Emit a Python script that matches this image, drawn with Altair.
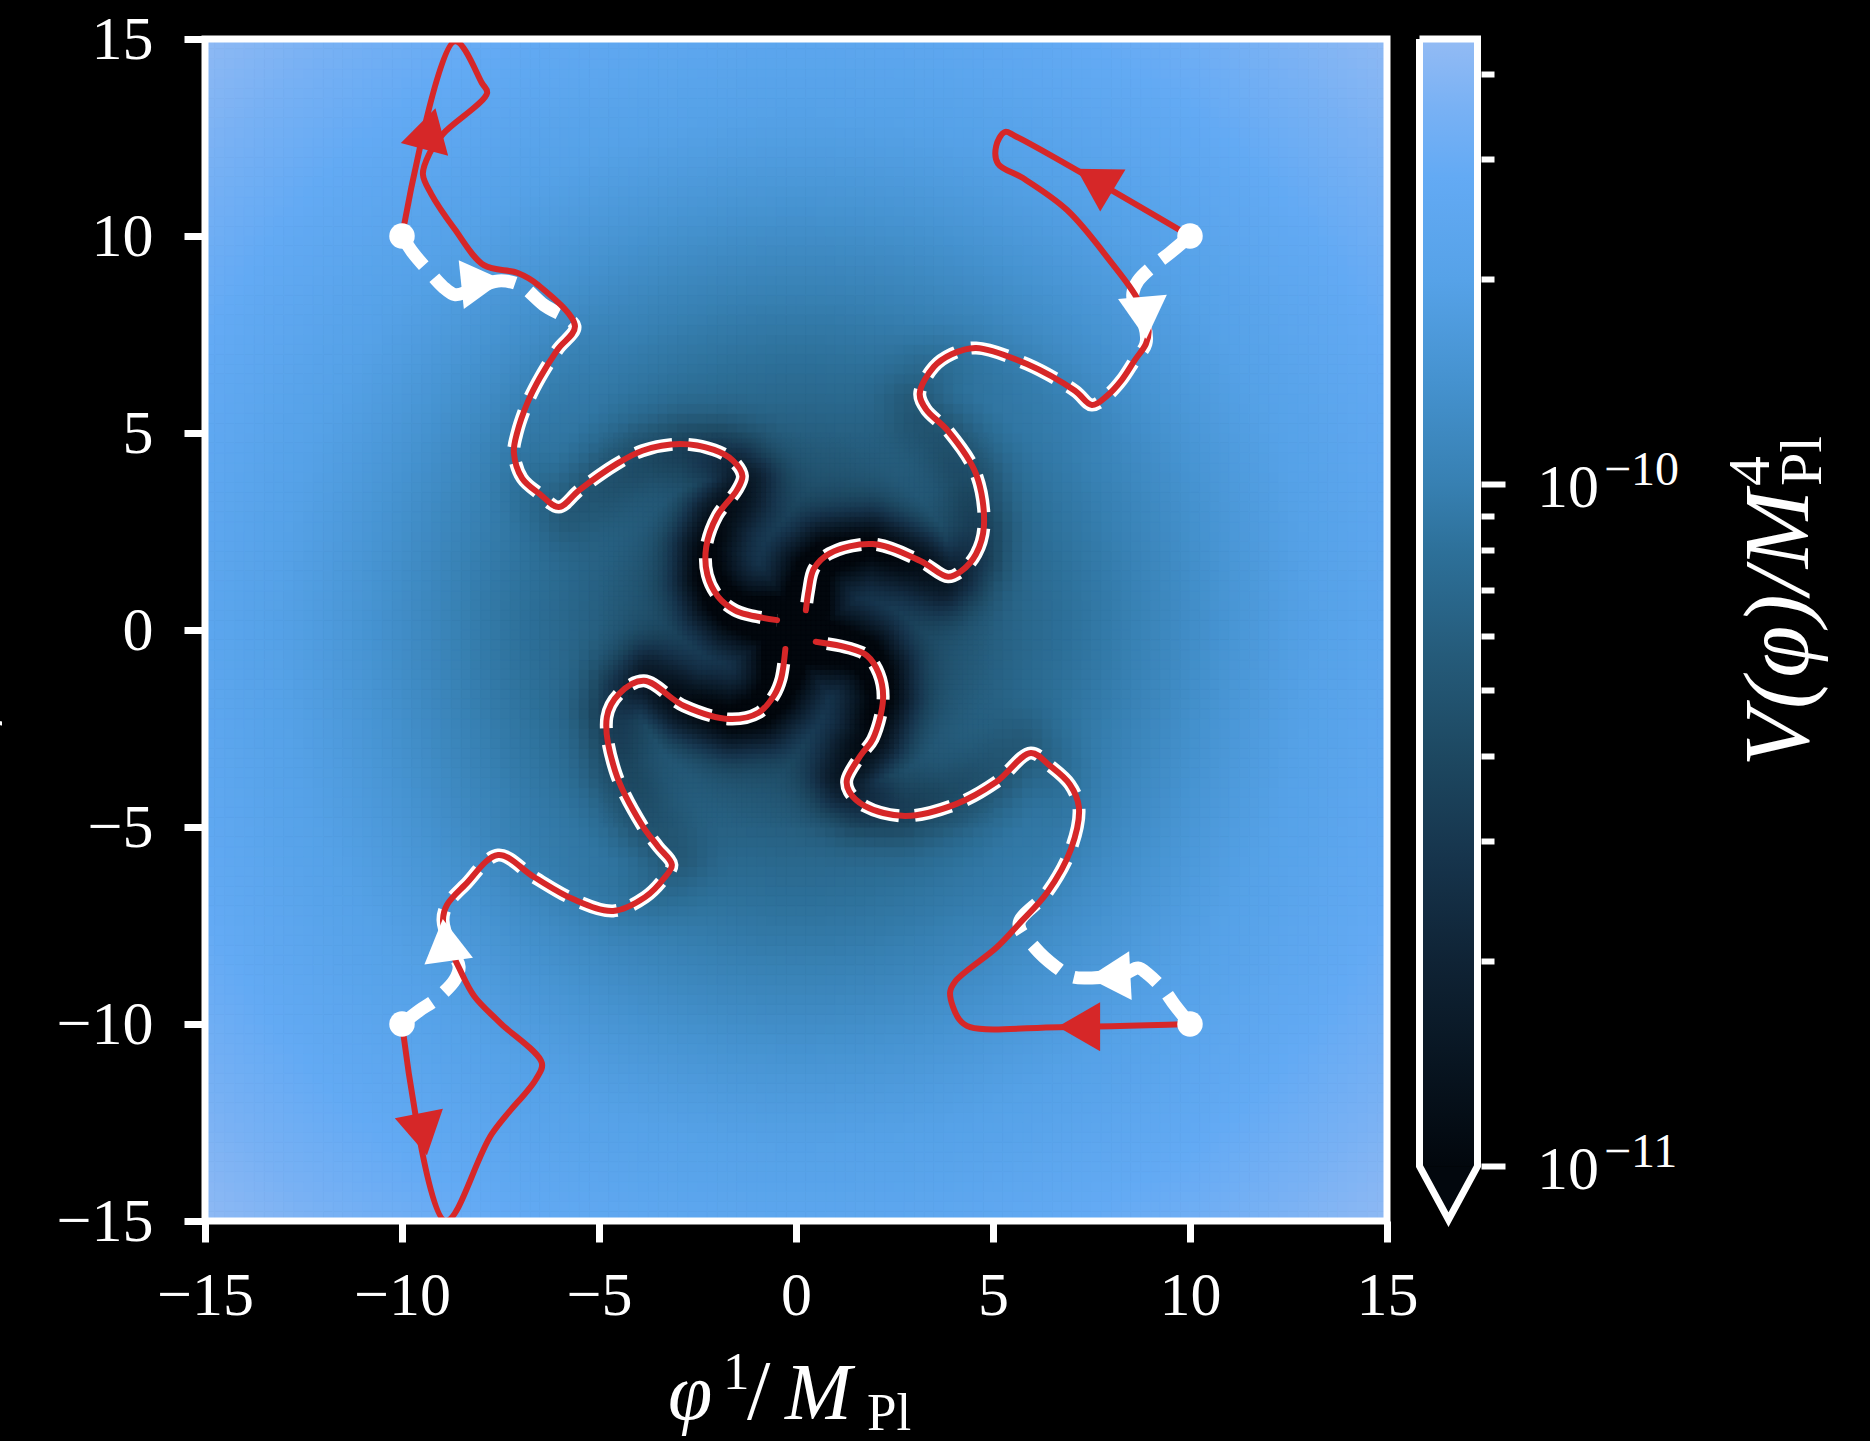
import numpy as np
import pandas as pd
import altair as alt

FONT = "Liberation Serif"
W = H = 1182
PAD = {"left": 205, "top": 39, "right": 483, "bottom": 220}

# ---------------- colour map (log10 V / M_Pl^4) ----------------
CMAP_LOG = [-11.0, -10.85, -10.7, -10.55, -10.4, -10.25, -10.1, -10.0, -9.85, -9.7, -9.55, -9.45, -9.347]
CMAP_COL = ["#02070d", "#081521", "#0f2335", "#16344c", "#1d4861", "#255b7a", "#2d7099",
            "#3780b2", "#4592cf", "#56a2e8", "#63aaf4", "#78b1f4", "#93bbf4"]
V_TOP = 4.5e-10
V_MIN = 1e-11
V_TIP = 8.35e-12
CB_BOTTOM = 8.31e-12
CB_TICKS = [1e-11, 2e-11, 3e-11, 4e-11, 5e-11, 6e-11, 7e-11, 8e-11, 9e-11, 1e-10, 2e-10, 3e-10, 4e-10]
CB_MAJOR = [1e-11, 1e-10]
CB_EXP = ["\u221211", "\u221210"]
AXIS_TICKS = [-15, -10, -5, 0, 5, 10, 15]

# ---------------- potential: radial profile and valley darkening ----------------
PROFILE_R = [0, 0.3, 0.6, 1, 1.5, 2, 3, 4, 5, 6, 7, 8, 9, 10, 11, 12, 13, 14, 15, 16, 17, 18, 19, 20, 21.3]
PROFILE_LV = [-11.4, -10.88, -10.72, -10.62, -10.54, -10.49, -10.4, -10.31, -10.22, -10.15, -10.09, -10.03,
              -9.96, -9.89, -9.82, -9.76, -9.71, -9.67, -9.62, -9.58, -9.53, -9.49, -9.45, -9.41, -9.36]
VALLEY_R = [0, 0.5, 1, 2, 3, 4, 5, 6, 7, 8, 9, 10]
VALLEY_DEPTH = [-0.3, -0.4, -0.55, -0.62, -0.62, -0.52, -0.33, -0.2, -0.12, -0.06, -0.03, 0.0]
VALLEY_WIDTH = 0.9

# ---------------- trajectories ----------------
ARM_TL_X = [-5.61, -6.05, -6.5, -6.82, -7.08, -7.16, -6.95, -6.5, -6.02, -5.5, -4.59, -3.9, -2.94, -2.08, -1.6,
            -1.36, -1.5, -2.0, -2.28, -2.25, -1.98, -1.55, -1.2, -0.48]
ARM_TL_Y = [7.71, 7.12, 6.4, 5.76, 5.0, 4.5, 3.85, 3.45, 3.12, 3.55, 4.19, 4.55, 4.72, 4.57, 4.3,
            3.91, 3.55, 2.9, 2.1, 1.4, 0.85, 0.5, 0.38, 0.25]
ARM_TR_X = [8.88, 8.6, 8.27, 7.9, 7.51, 7.08, 5.86, 4.57, 3.95, 3.5, 3.14, 3.3, 3.86, 4.57, 4.77, 4.57, 4.2,
            3.86, 3.16, 1.95, 0.85, 0.45, 0.32, 0.25]
ARM_TR_Y = [7.26, 6.85, 6.35, 5.95, 5.71, 6.07, 6.75, 7.16, 7.0, 6.68, 6.0, 5.6, 5.05, 3.96, 2.64, 1.93, 1.5,
            1.35, 1.75, 2.18, 1.94, 1.55, 1.0, 0.5]
ARM_BR_X = [5.66, 6.37, 6.98, 7.18, 6.95, 6.45, 5.96, 5.08, 4.06, 2.77, 1.75, 1.35, 1.29, 1.65, 1.95, 2.21,
            2.1, 1.8, 1.35, 0.5]
ARM_BR_Y = [-7.46, -6.67, -5.56, -4.5, -3.92, -3.45, -3.12, -3.86, -4.42, -4.72, -4.47, -4.1, -3.81, -3.17,
            -2.77, -1.75, -1.1, -0.65, -0.46, -0.3]
ARM_BL_X = [-8.96, -8.86, -8.4, -7.56, -6.65, -5.66, -4.64, -3.83, -3.35, -3.15, -3.5, -3.91, -4.59, -4.8,
            -4.49, -3.86, -2.84, -1.68, -0.95, -0.55, -0.38, -0.27]
ARM_BL_Y = [-7.36, -6.98, -6.47, -5.71, -6.27, -6.83, -7.13, -6.78, -6.3, -5.96, -5.5, -4.95, -3.58, -2.21,
            -1.62, -1.29, -1.93, -2.26, -2.1, -1.65, -1.24, -0.48]

RED_TL_X = [-10.0, -8.66, -7.97, -7.84, -8.96, -9.31, -9.47, -9.26, -8.66, -7.92, -7.06, -6.55]
RED_TL_Y = [10.0, 14.94, 13.88, 13.63, 12.59, 12.08, 11.57, 11.07, 10.17, 9.26, 9.06, 8.76]
RED_TR_X = [10.0, 5.56, 5.30, 5.08, 5.13, 5.76, 6.88, 7.97, 8.68, 8.95]
RED_TR_Y = [10.0, 12.54, 12.64, 12.28, 11.83, 11.47, 10.66, 9.37, 8.38, 7.6]
RED_BL_X = [-10.0, -8.9, -7.72, -6.6, -6.45, -7.51, -8.17, -8.55, -8.85]
RED_BL_Y = [-10.0, -15.0, -12.79, -11.4, -10.99, -9.97, -9.29, -8.58, -7.9]
RED_BR_X = [10.0, 6.67, 4.42, 4.14, 3.91, 4.04, 5.09]
RED_BR_Y = [-10.0, -10.08, -10.08, -9.88, -9.21, -8.92, -8.06]

WHITE_TL_X = [-10.0, -9.72, -9.37, -8.96, -8.66, -8.3, -7.56, -7.0, -6.4]
WHITE_TL_Y = [10.0, 9.57, 9.16, 8.71, 8.51, 8.6, 8.86, 8.75, 8.25]
WHITE_TR_X = [10.0, 9.49, 9.09, 8.68, 8.55, 8.6, 8.84]
WHITE_TR_Y = [10.0, 9.57, 9.26, 8.86, 8.55, 8.2, 7.75]
WHITE_BL_X = [-10.0, -9.55, -9.16, -8.66, -8.55, -8.75]
WHITE_BL_Y = [-10.0, -9.65, -9.39, -8.88, -8.55, -8.1]
WHITE_BR_X = [10.0, 9.6, 9.35, 8.95, 8.68, 8.35, 7.51, 7.0, 6.57, 6.07]
WHITE_BR_Y = [-10.0, -9.5, -9.15, -8.75, -8.58, -8.72, -8.83, -8.8, -8.53, -8.07]

DOT_X = [-10.0, 10.0, -10.0, 10.0]
DOT_Y = [10.0, 10.0, -10.0, -10.0]

RED_ARROW_X = [-9.29, 7.58, -9.47, 7.18]
RED_ARROW_Y = [12.72, 11.43, -12.8, -10.07]
RED_ARROW_ANG = [15, 301, 169, 270]
WHITE_ARROW_X = [-7.96, 8.84, -8.89, 7.95]
WHITE_ARROW_Y = [8.82, 7.92, -7.87, -8.8]
WHITE_ARROW_ANG = [84, 175, 352, 267]

ARMS = [(ARM_TL_X, ARM_TL_Y), (ARM_TR_X, ARM_TR_Y), (ARM_BR_X, ARM_BR_Y), (ARM_BL_X, ARM_BL_Y)]


# ---------------- heat map grid (finer cells near the centre) ----------------
def cells(lo, hi, step, skip=None):
    c = lo + step * (np.arange(int(round((hi - lo) / step))) + 0.5)
    gx, gy = np.meshgrid(c, c)
    gx, gy = gx.ravel(), gy.ravel()
    if skip is not None:
        keep = ~((np.abs(gx) < skip) & (np.abs(gy) < skip))
        gx, gy = gx[keep], gy[keep]
    return gx, gy, np.full(gx.shape, step)


ox, oy, os_ = cells(-15, 15, 0.25, skip=5)
ix, iy, is_ = cells(-5, 5, 0.125)
GX = np.concatenate([ox, ix]); GY = np.concatenate([oy, iy]); GS = np.concatenate([os_, is_])
GR = np.hypot(GX, GY)

dmin = np.full(GX.shape, 1e9)
for ax_, ay_ in ARMS:
    ax_ = np.asarray(ax_); ay_ = np.asarray(ay_)
    for k in range(len(ax_) - 1):
        x1, y1, x2, y2 = ax_[k], ay_[k], ax_[k + 1], ay_[k + 1]
        dx, dy = x2 - x1, y2 - y1
        L2 = dx * dx + dy * dy
        t = np.clip(((GX - x1) * dx + (GY - y1) * dy) / L2, 0, 1)
        d = np.hypot(GX - (x1 + t * dx), GY - (y1 + t * dy))
        dmin = np.minimum(dmin, d)

lv = np.interp(GR, PROFILE_R, PROFILE_LV) + np.interp(GR, VALLEY_R, VALLEY_DEPTH) * np.exp(-(dmin / VALLEY_WIDTH) ** 2)

heat_df = pd.DataFrame({
    "x0": np.round(GX - GS / 2, 4),
    "x1": np.round(GX + GS / 2, 4),
    "y0": np.round(GY - GS / 2, 4),
    "y1": np.round(GY + GS / 2, 4),
    "lv": np.round(lv, 3),
})


def path_df(pieces):
    rows = []
    for name, xs, ys in pieces:
        for i, (x, y) in enumerate(zip(xs, ys)):
            rows.append({"traj": name, "i": i, "x": x, "y": y})
    return pd.DataFrame(rows)


red_df = path_df([
    ("tl", RED_TL_X + ARM_TL_X, RED_TL_Y + ARM_TL_Y),
    ("tr", RED_TR_X + ARM_TR_X, RED_TR_Y + ARM_TR_Y),
    ("bl", RED_BL_X + ARM_BL_X, RED_BL_Y + ARM_BL_Y),
    ("br", RED_BR_X + ARM_BR_X, RED_BR_Y + ARM_BR_Y),
])
white_df = path_df([
    ("tl", WHITE_TL_X + ARM_TL_X, WHITE_TL_Y + ARM_TL_Y),
    ("tr", WHITE_TR_X + ARM_TR_X, WHITE_TR_Y + ARM_TR_Y),
    ("bl", WHITE_BL_X + ARM_BL_X, WHITE_BL_Y + ARM_BL_Y),
    ("br", WHITE_BR_X + ARM_BR_X, WHITE_BR_Y + ARM_BR_Y),
])
dots_df = pd.DataFrame({"x": DOT_X, "y": DOT_Y})
red_arrow_df = pd.DataFrame({"x": RED_ARROW_X, "y": RED_ARROW_Y, "ang": RED_ARROW_ANG})
white_arrow_df = pd.DataFrame({"x": WHITE_ARROW_X, "y": WHITE_ARROW_Y, "ang": WHITE_ARROW_ANG})
one = pd.DataFrame({"a": [0]})

# ---------------- scales / axes ----------------
XS = alt.Scale(domain=[-15, 15], nice=False, zero=False)
YS = alt.Scale(domain=[-15, 15], nice=False, zero=False)
LABEL_EXPR = "replace(format(datum.value, 'd'), '-', '\u2212')"
X_AXIS = alt.Axis(values=AXIS_TICKS, title=None, domain=False, grid=False, tickColor="white", tickWidth=7,
                  tickSize=21, labelColor="white", labelFont=FONT, labelFontSize=62, labelPadding=23,
                  labelExpr=LABEL_EXPR, labelFlush=False, labelOverlap=False)
Y_AXIS = alt.Axis(values=AXIS_TICKS, title=None, domain=False, grid=False, tickColor="white", tickWidth=7,
                  tickSize=21, labelColor="white", labelFont=FONT, labelFontSize=62, labelPadding=31,
                  labelExpr=LABEL_EXPR, labelFlush=False, labelOverlap=False)
CSCALE = alt.Scale(domain=CMAP_LOG, range=CMAP_COL, clamp=True, interpolate="rgb")


def xy(xf="x:Q", yf="y:Q"):
    return dict(x=alt.X(xf, scale=XS, axis=X_AXIS), y=alt.Y(yf, scale=YS, axis=Y_AXIS))


heat = alt.Chart(heat_df).mark_rect(strokeWidth=1).encode(
    x2="x1:Q", y2="y1:Q",
    color=alt.Color("lv:Q", scale=CSCALE, legend=None),
    stroke=alt.Stroke("lv:Q", scale=CSCALE, legend=None),
    **xy("x0:Q", "y0:Q"),
)

white_lines = alt.Chart(white_df).mark_line(
    color="white", strokeWidth=13, strokeDash=[37, 16], strokeCap="butt", clip=True,
    interpolate="catmull-rom"
).encode(detail="traj:N", order="i:Q", **xy())

red_lines = alt.Chart(red_df).mark_line(
    color="#d62728", strokeWidth=6, strokeJoin="round", strokeCap="round", clip=True,
    interpolate="catmull-rom"
).encode(detail="traj:N", order="i:Q", **xy())

dots = alt.Chart(dots_df).mark_circle(size=650, color="white", opacity=1).encode(**xy())

red_arrows = alt.Chart(red_arrow_df).mark_point(
    shape="triangle-up", filled=True, size=2400, color="#d62728", opacity=1
).encode(angle=alt.Angle("ang:Q", scale=None), **xy())

white_arrows = alt.Chart(white_arrow_df).mark_point(
    shape="triangle-up", filled=True, size=2400, color="white", opacity=1
).encode(angle=alt.Angle("ang:Q", scale=None), **xy())

frame = alt.Chart(one).mark_rect(filled=False, color="white", strokeWidth=7).encode(
    x=alt.value(0), x2=alt.value(W), y=alt.value(0), y2=alt.value(H))


def txt(text, x, y, size, italic=False, angle=0, align="left", baseline="alphabetic"):
    props = dict(align=align, baseline=baseline, font=FONT, fontSize=size, color="white")
    if italic:
        props["fontStyle"] = "italic"
    if angle:
        props["angle"] = angle
    return alt.Chart(pd.DataFrame({"t": [text]})).mark_text(**props).encode(
        text="t:N", x=alt.value(x), y=alt.value(y))


x_title = [
    txt("\u03c6", 463, 1380, 80, italic=True),
    txt("1", 518, 1350, 53),
    txt("/", 542, 1380, 84),
    txt("M", 580, 1380, 80, italic=True),
    txt("Pl", 662, 1391, 53),
]
y_title = txt("\u03c6\u00b2/MPl", -219, 591, 76, italic=True, angle=270, align="center")

main = alt.layer(heat, white_lines, red_lines, dots, red_arrows, white_arrows, frame, *x_title, y_title)

# ---------------- colour bar ----------------
CB_Y = alt.Scale(type="log", domain=[CB_BOTTOM, V_TOP], nice=False, zero=False)
CB_AXIS = alt.Axis(orient="right", offset=94, values=CB_TICKS, labels=False, title=None, domain=False,
                   grid=False, tickColor="white", tickWidth=6,
                   tickSize={"condition": {"test": "abs(datum.value/1e-10 - 1) < 1e-6 || abs(datum.value/1e-11 - 1) < 1e-6",
                                           "value": 24}, "value": 13})

span = CMAP_LOG[-1] - CMAP_LOG[0]
grad = alt.Gradient(
    gradient="linear",
    stops=[alt.GradientStop(offset=(l - CMAP_LOG[0]) / span, color=c) for l, c in zip(CMAP_LOG, CMAP_COL)],
    x1=0, x2=0, y1=1, y2=0,
)
cb_rect = alt.Chart(pd.DataFrame({"v0": [V_MIN], "v1": [V_TOP]})).mark_rect(fill=grad).encode(
    x=alt.value(1218), x2=alt.value(1269),
    y=alt.Y("v0:Q", scale=CB_Y, axis=CB_AXIS), y2="v1:Q")

tri_df = pd.DataFrame({"px": [1218, 1243.5, 1269], "v": [V_MIN, V_TIP, V_MIN], "v2": [V_MIN] * 3})
cb_tri = alt.Chart(tri_df).mark_area(color=CMAP_COL[0], orient="vertical").encode(
    x=alt.X("px:Q", scale=None, axis=None),
    y=alt.Y("v:Q", scale=CB_Y, axis=CB_AXIS), y2="v2:Q")

outline_df = pd.DataFrame({
    "i": [0, 1, 2, 3, 4, 5],
    "px": [1214.5, 1214.5, 1243.5, 1272.5, 1272.5, 1214.5],
    "v": [V_TOP, V_MIN, V_TIP, V_MIN, V_TOP, V_TOP],
})
cb_outline = alt.Chart(outline_df).mark_line(color="white", strokeWidth=7, strokeJoin="miter").encode(
    x=alt.X("px:Q", scale=None, axis=None),
    y=alt.Y("v:Q", scale=CB_Y, axis=CB_AXIS), order="i:Q")

lab_df = pd.DataFrame({"v": CB_MAJOR, "base": ["10", "10"], "exp": CB_EXP})
cb_base = alt.Chart(lab_df).mark_text(align="left", baseline="alphabetic", dy=23, font=FONT, fontSize=62,
                                      color="white").encode(
    x=alt.value(1332), y=alt.Y("v:Q", scale=CB_Y, axis=CB_AXIS), text="base:N")
cb_exp = alt.Chart(lab_df).mark_text(align="left", baseline="alphabetic", dy=1, font=FONT, fontSize=48,
                                     color="white").encode(
    x=alt.value(1399), y=alt.Y("v:Q", scale=CB_Y, axis=CB_AXIS), text="exp:N")

cb_title = [
    txt("V(\u03c6)/M", 1603, 451, 94, italic=True, angle=270, align="right"),
    txt("4", 1564, 447, 60, angle=270, align="left"),
    txt("Pl", 1616, 447, 60, angle=270, align="left"),
]

cbar = alt.layer(cb_rect, cb_tri, cb_outline, cb_base, cb_exp, *cb_title)

chart = (
    alt.layer(main, cbar)
    .resolve_scale(y="independent")
    .properties(width=W, height=H, autosize=alt.AutoSizeParams(type="none"), padding=PAD)
    .configure(background="black")
    .configure_view(stroke=None)
)

chart.save("out.html", embed_options={"renderer": "svg", "actions": False})
